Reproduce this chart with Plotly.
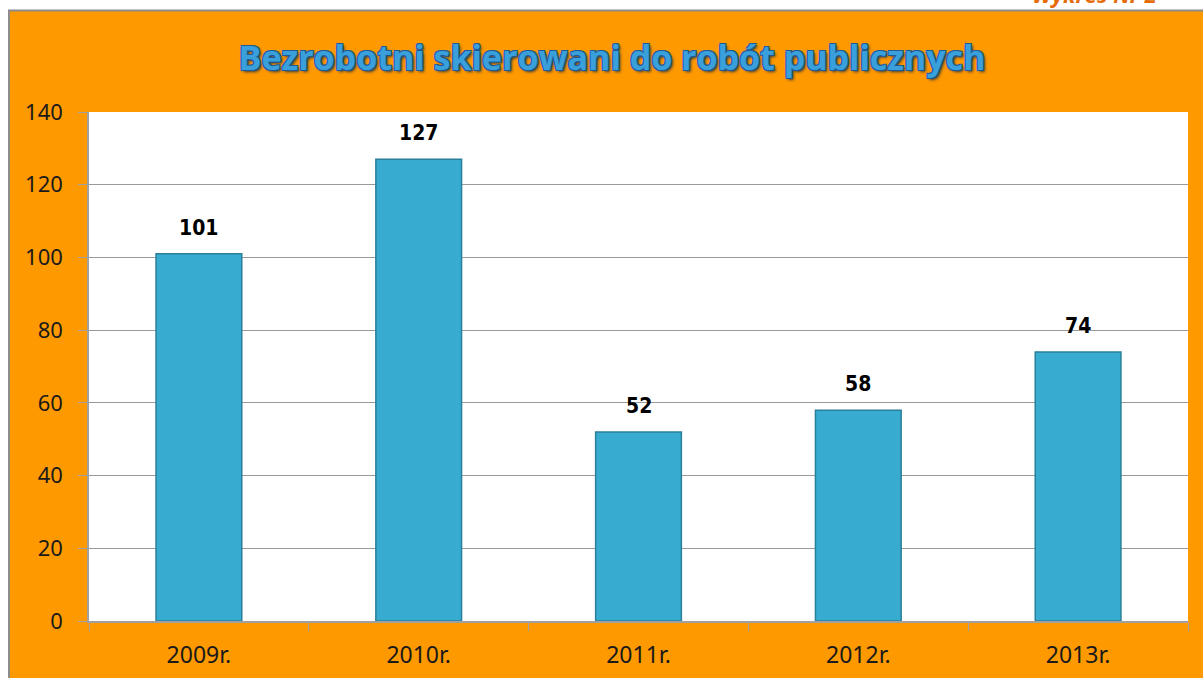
import plotly.graph_objects as go

categories = ["2009r.", "2010r.", "2011r.", "2012r.", "2013r."]
values = [101, 127, 52, 58, 74]
y_ticks = [0, 20, 40, 60, 80, 100, 120, 140]
title_text = "Bezrobotni skierowani do robót publicznych"
corner_text = "Wykres Nr 2"

ORANGE = "#FF9900"
W, H = 1203, 678
ml, mr, mt, mb = 89, 15, 112, 57

fig = go.Figure()
fig.add_trace(go.Bar(
    x=categories, y=values,
    width=0.39,
    marker=dict(color="#38ACD0", line=dict(color="#2A7F99", width=1.5)),
    cliponaxis=False,
    hoverinfo="skip",
))

pw = W - ml - mr
ph = H - mt - mb
def px_x(x):
    return (x - ml) / pw
def px_y(y):
    return (H - mb - y) / ph

shapes = [
    dict(type="rect", xref="paper", yref="paper", x0=px_x(0), x1=px_x(W), y0=px_y(0), y1=px_y(10),
         fillcolor="#FFFFFF", line=dict(width=0), layer="below"),
    dict(type="rect", xref="paper", yref="paper", x0=px_x(0), x1=px_x(8), y0=px_y(10), y1=px_y(H),
         fillcolor="#FFFFFF", line=dict(width=0), layer="below"),
    dict(type="line", xref="paper", yref="paper", x0=px_x(8), x1=px_x(W), y0=px_y(10.5), y1=px_y(10.5),
         line=dict(color="#8C8C8C", width=2), layer="below"),
    dict(type="line", xref="paper", yref="paper", x0=px_x(9), x1=px_x(9), y0=px_y(10), y1=px_y(H),
         line=dict(color="#8C8C8C", width=2), layer="below"),
]

annotations = [
    dict(x=c, y=v, xref="x", yref="y", text=str(v), showarrow=False,
         yanchor="bottom", yshift=12,
         font=dict(family="DejaVu Sans Condensed", size=21, color="#000000", weight="bold"))
    for c, v in zip(categories, values)
]
annotations.append(dict(
    text=corner_text, xref="paper", yref="paper",
    x=px_x(1030), y=px_y(-6), xanchor="left", yanchor="middle",
    showarrow=False,
    font=dict(family="Open Sans", size=22, color="#E46C0A", weight="bold", style="italic"),
))

fig.update_layout(
    width=W, height=H,
    margin=dict(l=ml, r=mr, t=mt, b=mb),
    paper_bgcolor=ORANGE,
    plot_bgcolor="#FFFFFF",
    showlegend=False,
    shapes=shapes,
    annotations=annotations,
    title=dict(
        text=title_text, x=px_x(612), xanchor="center", xref="paper",
        y=1 - 58 / H, yanchor="middle",
        font=dict(family="Open Sans", size=34, color="#3AA0DC", weight="bold",
                  shadow="1px 1px 0 #1E5A96, -1px -1px 0 #1E5A96, 1px -1px 0 #1E5A96, -1px 1px 0 #1E5A96, 2px 2px 3px #3b3b3b"),
    ),
    xaxis=dict(
        type="category",
        tickson="boundaries",
        ticks="outside", ticklen=8, tickcolor="#A0A0A0",
        showline=True, linecolor="#A0A0A0", linewidth=1.5,
        tickfont=dict(family="Noto Sans", size=23, color="#1a1a1a"),
        ticklabelstandoff=13,
        showgrid=False,
        automargin=False,
    ),
    yaxis=dict(
        range=[0, 140], tickvals=y_ticks,
        ticks="outside", ticklen=9, tickcolor="#A0A0A0",
        showline=True, linecolor="#A0A0A0", linewidth=1.5,
        gridcolor="#9A9A9A", gridwidth=1,
        tickfont=dict(family="Noto Sans", size=22, color="#1a1a1a"),
        ticklabelstandoff=11,
        zeroline=False,
        automargin=False,
    ),
)

fig.write_html("out.html", config={"displayModeBar": False},
               post_script="document.body.style.margin='0';")
